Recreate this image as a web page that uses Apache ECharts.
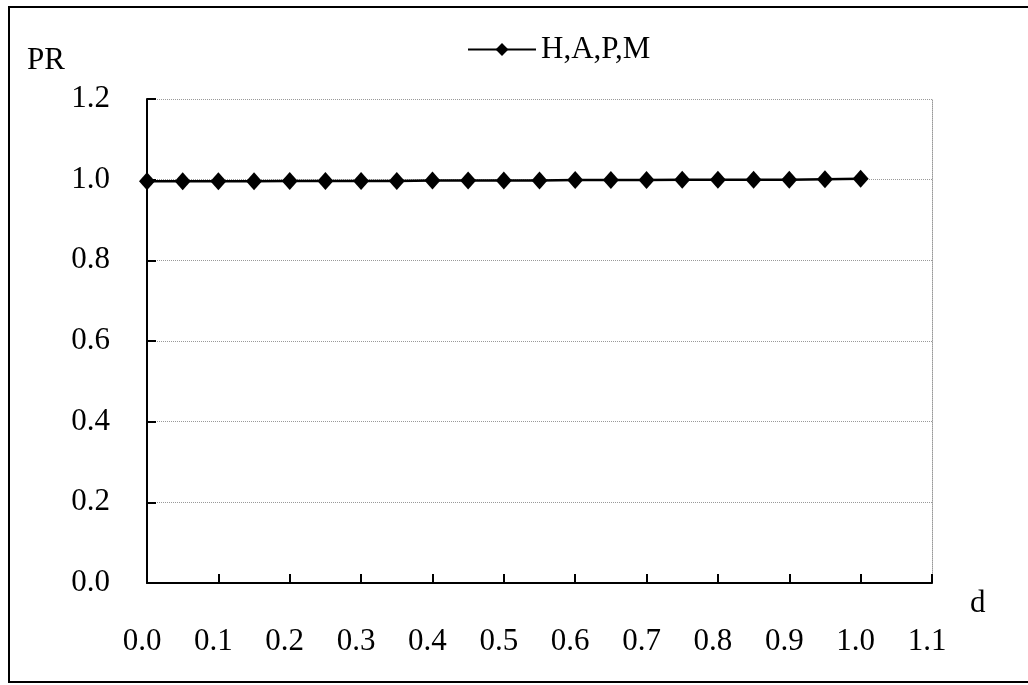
<!DOCTYPE html>
<html>
<head>
<meta charset="utf-8">
<script src="https://cdn.jsdelivr.net/npm/echarts@6/dist/echarts.min.js"></script>
<style>html,body{margin:0;padding:0;background:#fff;}#c{width:1028px;height:685px;}</style>
</head>
<body>
<div id="c"></div>
<script>
var dValues = [0.00,0.05,0.10,0.15,0.20,0.25,0.30,0.35,0.40,0.45,0.50,0.55,0.60,0.65,0.70,0.75,0.80,0.85,0.90,0.95,1.00];
var prValues = [0.996,0.996,0.996,0.996,0.997,0.997,0.997,0.997,0.998,0.998,0.998,0.998,0.999,0.999,0.999,1.000,1.000,1.000,1.000,1.001,1.002];
var seriesName = 'H,A,P,M';
var yTicks = [0.0,0.2,0.4,0.6,0.8,1.0,1.2];
var xTicks = [0.0,0.1,0.2,0.3,0.4,0.5,0.6,0.7,0.8,0.9,1.0,1.1];

var font = 'Liberation Serif';
var fs = 31;
var chart = echarts.init(document.getElementById('c'), null, {renderer:'canvas'});
chart.setOption({
  backgroundColor:'#fff',
  animation:false,
  graphic:[{type:'rect', shape:{x:9,y:7,width:1030,height:675}, style:{fill:'none', stroke:'#000', lineWidth:2}}],
  title:{text:'PR', left:22, top:40, textStyle:{fontFamily:font, fontSize:fs, fontWeight:'normal', color:'#000'}},
  legend:{left:462, top:29, itemWidth:68, itemHeight:16, itemGap:8,
    textStyle:{fontFamily:font, fontSize:fs, color:'#000'},
    data:[seriesName]},
  grid:{left:147, right:96, top:99, bottom:102, containLabel:false},
  xAxis:{type:'value', min:xTicks[0], max:xTicks[xTicks.length-1], interval:0.1,
    name:'d', nameLocation:'end', nameGap:38,
    nameTextStyle:{fontFamily:font, fontSize:fs, color:'#000', verticalAlign:'top', padding:[5,0,0,0]},
    axisLine:{show:true, onZero:false, lineStyle:{color:'#000', width:2}},
    axisTick:{show:true, inside:true, length:9, lineStyle:{color:'#000', width:2}},
    axisLabel:{margin:43, fontFamily:font, fontSize:fs, color:'#000', padding:[0,10,0,0],
      formatter:function(v){return v.toFixed(1);}},
    splitLine:{show:false}},
  yAxis:[{type:'value', min:yTicks[0], max:yTicks[yTicks.length-1], interval:0.2,
    axisLine:{show:true, lineStyle:{color:'#000', width:2}},
    axisTick:{show:true, inside:true, length:9, lineStyle:{color:'#000', width:2}},
    axisLabel:{margin:37, fontFamily:font, fontSize:fs, color:'#000',
      formatter:function(v){return v.toFixed(1);}},
    splitLine:{show:true, lineStyle:{color:'#999', width:1, type:'dotted'}}},
    {type:'value', min:yTicks[0], max:yTicks[yTicks.length-1], interval:0.2, position:'right',
    axisLine:{show:true, lineStyle:{color:'#999', width:1, type:'dotted'}},
    axisTick:{show:false}, axisLabel:{show:false}, splitLine:{show:false}}],
  series:[{name:seriesName, type:'line', yAxisIndex:0,
    data:dValues.map(function(d,i){return [d, prValues[i]];}),
    symbol:'diamond', symbolSize:[16,18], showSymbol:true,
    lineStyle:{color:'#000', width:2.5}, itemStyle:{color:'#000'}}]
});
</script>
</body>
</html>
